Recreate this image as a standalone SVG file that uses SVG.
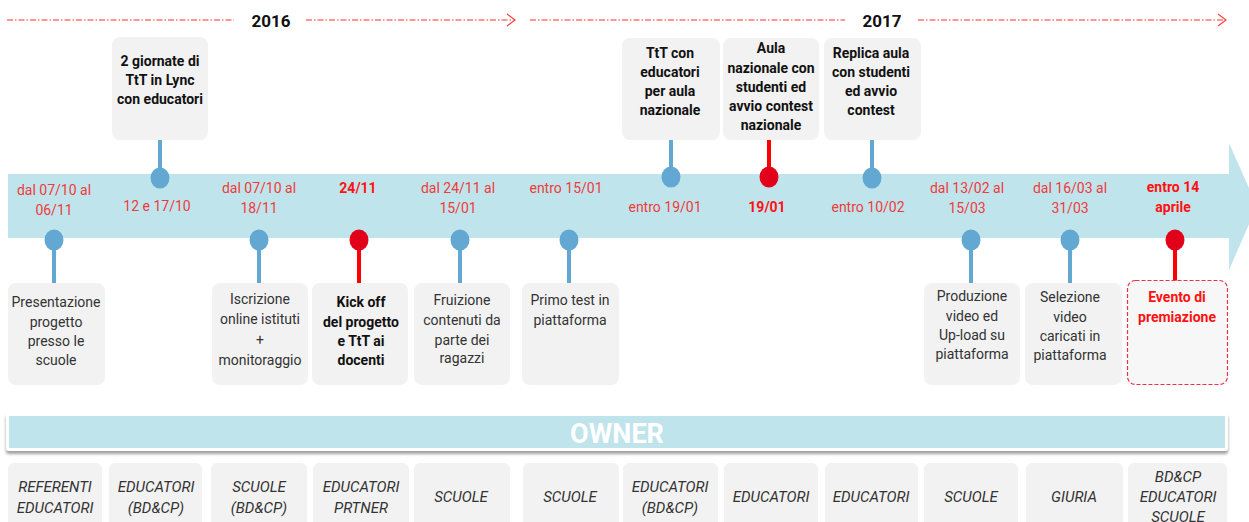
<svg xmlns="http://www.w3.org/2000/svg" width="1249" height="522" viewBox="0 0 1249 522">
<defs>
<style>
text{font-family:Roboto,"Liberation Sans",sans-serif;text-anchor:middle}
.yr{font-size:17px;font-weight:bold;fill:#111}
.hdr{stroke:#ff3030;stroke-width:1.2;stroke-dasharray:6 2 1.5 2;fill:none}
.chev{stroke:#ff4040;stroke-width:1.2;fill:none}
.box{fill:#f2f2f2}
.tb{font-size:14px;font-weight:bold;fill:#111}
.bt{font-size:14px;fill:#333}
.bb{font-size:14px;font-weight:bold;fill:#111}
.dt{font-size:14px;fill:#ee3b3b}
.db{font-size:14px;font-weight:bold;fill:#ff1111}
.pin{fill:#62a8d2}
.pinr{fill:#e2001a}
.stem{stroke:#62a8d2;stroke-width:4}
.stemr{stroke:#ff0000;stroke-width:4}
.own{font-size:15px;font-style:italic;fill:#333}
</style>
<filter id="sh" x="-5%" y="-50%" width="110%" height="200%">
<feDropShadow dx="0" dy="3" stdDeviation="1.5" flood-color="#888" flood-opacity="0.8"/>
</filter>
</defs>
<rect width="1249" height="522" fill="#fff"/>

<g id="header">
<line class="hdr" x1="7" y1="20" x2="234" y2="20"/>
<text class="yr" x="271" y="27">2016</text>
<line class="hdr" x1="306" y1="20" x2="514" y2="20"/>
<polyline class="chev" points="507,14 515,20 507,26"/>
<line class="hdr" x1="530" y1="20" x2="845" y2="20"/>
<text class="yr" x="882" y="27">2017</text>
<line class="hdr" x1="918" y1="20" x2="1226" y2="20"/>
<polyline class="chev" points="1218,14 1226,20 1218,26"/>
</g>

<g id="timeline">
<polygon points="8,174 1229,174 1229,143 1257,206 1229,270 1229,238 8,238" fill="#c0e4ec"/>
</g>

<g id="connectors">
<line class="stem" x1="160" y1="139" x2="160" y2="177"/>
<line class="stem" x1="671" y1="139" x2="671" y2="177"/>
<line class="stemr" x1="769" y1="139" x2="769" y2="177"/>
<line class="stem" x1="872" y1="139" x2="872" y2="177"/>
<line class="stem" x1="54" y1="240" x2="54" y2="284"/>
<line class="stem" x1="259" y1="240" x2="259" y2="284"/>
<line class="stemr" x1="359" y1="240" x2="359" y2="284"/>
<line class="stem" x1="460" y1="240" x2="460" y2="284"/>
<line class="stem" x1="569" y1="240" x2="569" y2="284"/>
<line class="stem" x1="971" y1="240" x2="971" y2="284"/>
<line class="stem" x1="1070" y1="240" x2="1070" y2="284"/>
<line class="stemr" x1="1175" y1="240" x2="1175" y2="284"/>
</g>

<g id="ev1">
<ellipse class="pin" cx="54" cy="240" rx="9.5" ry="10.5"/>
<text class="dt" x="54" y="195">dal 07/10 al</text>
<text class="dt" x="54" y="215">06/11</text>
<rect class="box" x="8" y="283" width="97" height="102" rx="8"/>
<text class="bt" x="56" y="307">Presentazione</text>
<text class="bt" x="56" y="327">progetto</text>
<text class="bt" x="56" y="346">presso le</text>
<text class="bt" x="56" y="365">scuole</text>
</g>

<g id="ev2">
<rect class="box" x="112" y="37" width="96" height="103" rx="8"/>
<text class="tb" x="160" y="66">2 giornate di</text>
<text class="tb" x="160" y="85">TtT in Lync</text>
<text class="tb" x="160" y="104">con educatori</text>
<ellipse class="pin" cx="160" cy="178" rx="9.5" ry="10.5"/>
<text class="dt" x="157" y="211">12 e 17/10</text>
</g>

<g id="ev3">
<ellipse class="pin" cx="259" cy="240" rx="9.5" ry="10.5"/>
<text class="dt" x="259" y="193">dal 07/10 al</text>
<text class="dt" x="259" y="213">18/11</text>
<rect class="box" x="212" y="283" width="96" height="102" rx="8"/>
<text class="bt" x="260" y="304">Iscrizione</text>
<text class="bt" x="260" y="324">online istituti</text>
<text class="bt" x="260" y="345">+</text>
<text class="bt" x="260" y="365">monitoraggio</text>
</g>

<g id="ev4">
<ellipse class="pinr" cx="359" cy="240" rx="9.5" ry="10.5"/>
<text class="db" x="358" y="193">24/11</text>
<rect class="box" x="312" y="283" width="96" height="102" rx="8"/>
<text class="bb" x="361" y="307">Kick off</text>
<text class="bb" x="361" y="327">del progetto</text>
<text class="bb" x="361" y="346">e TtT ai</text>
<text class="bb" x="361" y="365">docenti</text>
</g>

<g id="ev5">
<ellipse class="pin" cx="460" cy="240" rx="9.5" ry="10.5"/>
<text class="dt" x="458" y="193">dal 24/11 al</text>
<text class="dt" x="458" y="213">15/01</text>
<rect class="box" x="414" y="283" width="96" height="102" rx="8"/>
<text class="bt" x="462" y="305">Fruizione</text>
<text class="bt" x="462" y="325">contenuti da</text>
<text class="bt" x="462" y="345">parte dei</text>
<text class="bt" x="462" y="363">ragazzi</text>
</g>

<g id="ev6">
<ellipse class="pin" cx="569" cy="240" rx="9.5" ry="10.5"/>
<text class="dt" x="566" y="193">entro 15/01</text>
<rect class="box" x="522" y="283" width="97" height="102" rx="8"/>
<text class="bt" x="570" y="305">Primo test in</text>
<text class="bt" x="570" y="325">piattaforma</text>
</g>

<g id="ev7">
<rect class="box" x="622" y="38" width="98" height="102" rx="8"/>
<text class="tb" x="670" y="58">TtT con</text>
<text class="tb" x="670" y="77">educatori</text>
<text class="tb" x="670" y="96">per aula</text>
<text class="tb" x="670" y="115">nazionale</text>
<ellipse class="pin" cx="671" cy="177" rx="9.5" ry="10.5"/>
<text class="dt" x="665" y="212">entro 19/01</text>
</g>

<g id="ev8">
<rect class="box" x="723" y="38" width="96" height="102" rx="8"/>
<text class="tb" x="771" y="53">Aula</text>
<text class="tb" x="771" y="73">nazionale con</text>
<text class="tb" x="771" y="92">studenti ed</text>
<text class="tb" x="771" y="111">avvio contest</text>
<text class="tb" x="771" y="130">nazionale</text>
<ellipse class="pinr" cx="769" cy="177" rx="9.5" ry="10.5"/>
<text class="db" x="767" y="212">19/01</text>
</g>

<g id="ev9">
<rect class="box" x="824" y="38" width="97" height="102" rx="8"/>
<text class="tb" x="871" y="58">Replica aula</text>
<text class="tb" x="871" y="77">con studenti</text>
<text class="tb" x="871" y="96">ed avvio</text>
<text class="tb" x="871" y="115">contest</text>
<ellipse class="pin" cx="872" cy="178" rx="9.5" ry="10.5"/>
<text class="dt" x="868" y="212">entro 10/02</text>
</g>

<g id="ev10">
<ellipse class="pin" cx="971" cy="240" rx="9.5" ry="10.5"/>
<text class="dt" x="967" y="193">dal 13/02 al</text>
<text class="dt" x="967" y="213">15/03</text>
<rect class="box" x="924" y="283" width="96" height="102" rx="8"/>
<text class="bt" x="972" y="301">Produzione</text>
<text class="bt" x="972" y="321">video ed</text>
<text class="bt" x="972" y="340">Up-load su</text>
<text class="bt" x="972" y="359">piattaforma</text>
</g>

<g id="ev11">
<ellipse class="pin" cx="1070" cy="240" rx="9.5" ry="10.5"/>
<text class="dt" x="1070" y="193">dal 16/03 al</text>
<text class="dt" x="1070" y="213">31/03</text>
<rect class="box" x="1025" y="283" width="97" height="102" rx="8"/>
<text class="bt" x="1070" y="302">Selezione</text>
<text class="bt" x="1070" y="322">video</text>
<text class="bt" x="1070" y="341">caricati  in</text>
<text class="bt" x="1070" y="360">piattaforma</text>
</g>

<g id="ev12">
<ellipse class="pinr" cx="1175" cy="240" rx="9.5" ry="10.5"/>
<text class="db" x="1173" y="192">entro 14</text>
<text class="db" x="1173" y="212">aprile</text>
<rect x="1127.5" y="280.5" width="100" height="104" rx="8" fill="#f7f7f7" stroke="#e8334a" stroke-width="1.2" stroke-dasharray="4 2"/>
<text class="db" x="1177" y="302">Evento di</text>
<text class="db" x="1177" y="322">premiazione</text>
</g>

<g id="owner">
<rect x="6" y="413" width="1222" height="38" rx="3" fill="#fff" filter="url(#sh)"/>
<rect x="9" y="416" width="1216" height="32" fill="#c0e4ec"/>
<text x="617" y="443" font-size="27" font-weight="bold" fill="#fff">OWNER</text>
</g>

<g id="owners">
<rect class="box" x="8" y="463" width="94" height="70" rx="6"/>
<text class="own" x="55" y="492">REFERENTI</text>
<text class="own" x="55" y="513">EDUCATORI</text>
<rect class="box" x="109" y="463" width="93" height="70" rx="6"/>
<text class="own" x="156" y="492">EDUCATORI</text>
<text class="own" x="156" y="513">(BD&amp;CP)</text>
<rect class="box" x="211" y="463" width="96" height="70" rx="6"/>
<text class="own" x="259" y="492">SCUOLE</text>
<text class="own" x="259" y="513">(BD&amp;CP)</text>
<rect class="box" x="313" y="463" width="96" height="70" rx="6"/>
<text class="own" x="361" y="492">EDUCATORI</text>
<text class="own" x="361" y="513">PRTNER</text>
<rect class="box" x="414" y="463" width="96" height="70" rx="6"/>
<text class="own" x="461" y="502">SCUOLE</text>
<rect class="box" x="523" y="463" width="96" height="70" rx="6"/>
<text class="own" x="570" y="502">SCUOLE</text>
<rect class="box" x="623" y="463" width="95" height="70" rx="6"/>
<text class="own" x="670" y="492">EDUCATORI</text>
<text class="own" x="670" y="513">(BD&amp;CP)</text>
<rect class="box" x="724" y="463" width="94" height="70" rx="6"/>
<text class="own" x="771" y="502">EDUCATORI</text>
<rect class="box" x="825" y="463" width="93" height="70" rx="6"/>
<text class="own" x="871" y="502">EDUCATORI</text>
<rect class="box" x="924" y="463" width="94" height="70" rx="6"/>
<text class="own" x="971" y="502">SCUOLE</text>
<rect class="box" x="1026" y="463" width="97" height="70" rx="6"/>
<text class="own" x="1074" y="502">GIURIA</text>
<rect class="box" x="1128" y="463" width="99" height="70" rx="6"/>
<text class="own" x="1178" y="482">BD&amp;CP</text>
<text class="own" x="1178" y="502">EDUCATORI</text>
<text class="own" x="1178" y="522">SCUOLE</text>
</g>
</svg>
